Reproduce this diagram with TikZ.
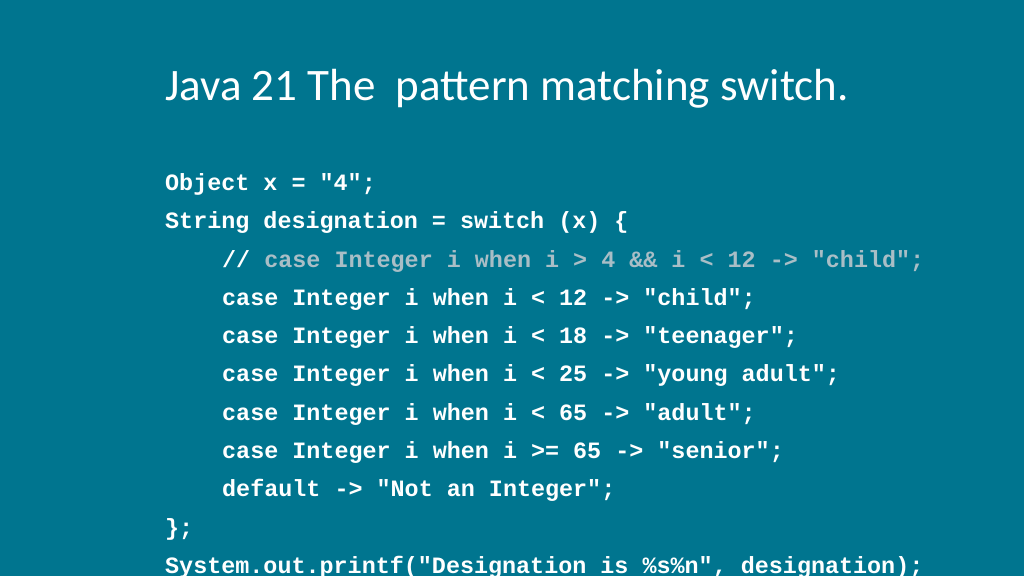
\documentclass[tikz,border=0pt]{standalone}
\usepackage{fontspec}
\setmainfont{Carlito}
\setmonofont{Liberation Mono}
\definecolor{slidebg}{HTML}{00758F}
\definecolor{commentgrey}{HTML}{A9BEC6}
\tikzstyle{title}=[anchor=base west,inner sep=0pt,text=white,font=\fontsize{45}{50}\selectfont]
\tikzstyle{code}=[anchor=base west,inner sep=0pt,text=white,font=\ttfamily\bfseries\fontsize{23.4}{28}\selectfont]

\begin{document}
\begin{tikzpicture}[x=1pt,y=-1pt]
	\fill [slidebg] (0,0) rectangle (1024,576);
	\useasboundingbox (0,0) rectangle (1024,576);
	\node [style=title] (head) at (165, 100) {Java 21 The\ \ pattern matching switch.};
	\node [style=code] (l1) at (165, 190) {Object x = "4";};
	\node [style=code] (l2) at (165, 228) {String designation = switch (x) \{};
	\node [style=code] (l3) at (222, 267) {//~\textcolor{commentgrey}{case Integer i when i > 4 \&\& i < 12 -> "child";}};
	\node [style=code] (l4) at (222, 305) {case Integer i when i < 12 -> "child";};
	\node [style=code] (l5) at (222, 343) {case Integer i when i < 18 -> "teenager";};
	\node [style=code] (l6) at (222, 381) {case Integer i when i < 25 -> "young adult";};
	\node [style=code] (l7) at (222, 420) {case Integer i when i < 65 -> "adult";};
	\node [style=code] (l8) at (222, 458) {case Integer i when i >= 65 -> "senior";};
	\node [style=code] (l9) at (222, 496) {default -> "Not an Integer";};
	\node [style=code] (l10) at (165, 535) {\};};
	\node [style=code] (l11) at (165, 573) {System.out.printf("Designation is \%s\%n", designation);};
\end{tikzpicture}
\end{document}
